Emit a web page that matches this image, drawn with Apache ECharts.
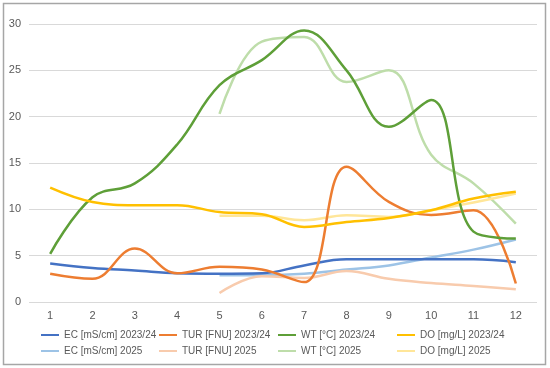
<!DOCTYPE html>
<html><head><meta charset="utf-8">
<script src="https://cdn.jsdelivr.net/npm/echarts@6/dist/echarts.min.js"></script>
<style>html,body{margin:0;padding:0;background:#fff}#c{width:550px;height:368px}</style>
</head><body><div id="c"></div>
<script>
const categories = ['1','2','3','4','5','6','7','8','9','10','11','12'];
const yTicks = [0,5,10,15,20,25,30];
const seriesNames = ['EC [mS/cm] 2023/24','TUR [FNU] 2023/24','WT [°C] 2023/24','DO [mg/L] 2023/24',
  'EC [mS/cm] 2025','TUR [FNU] 2025','WT [°C] 2025','DO [mg/L] 2025'];
const ec2324 = [4.15,3.67,3.4,3.1,3.05,3.1,3.95,4.6,4.6,4.6,4.6,4.3];
const tur2324 = [3.05,2.5,5.77,3.1,3.8,3.5,2.15,14.6,10.8,9.4,9.9,2.0];
const wt2324 = [5.2,11.3,12.8,17.0,23.4,26.1,29.3,25.0,18.9,21.8,7.6,6.85];
const do2324 = [12.35,10.8,10.45,10.45,9.7,9.47,8.1,8.64,9.07,9.9,11.17,11.9];
const ec25 = [null,null,null,null,2.9,2.9,3.05,3.5,3.95,4.8,5.65,6.75];
const tur25 = [null,null,null,null,0.97,2.78,2.6,3.35,2.5,2.05,1.73,1.37];
const wt25 = [null,null,null,null,20.3,28.1,28.6,23.75,25.0,15.9,12.8,8.45];
const do25 = [null,null,null,null,9.3,9.3,8.82,9.36,9.18,9.9,10.73,11.7];

const dataList = [ec2324,tur2324,wt2324,do2324,ec25,tur25,wt25,do25];
const colors = ['#4472C4','#ED7D31','#5E9F38','#FFC000','#9DC3E6','#F8CBAD','#BEDDAA','#FFE699'];

const chart = echarts.init(document.getElementById('c'));
const font = 'Liberation Sans, Arial, sans-serif';
const legendLefts = [40,158,277,396];
const legends = legendLefts.map((l,i)=>({
  left:l, top:330, orient:'vertical', itemGap:6, itemWidth:18, itemHeight:12, padding:0,
  itemStyle:{opacity:0},
  textStyle:{color:'#595959',fontSize:10,fontFamily:font},
  data:[seriesNames[i],seriesNames[i+4]]
}));
chart.setOption({
  animation:false,
  graphic:[{type:'rect',shape:{x:3.5,y:3.5,width:542,height:361},style:{fill:'none',stroke:'#a6a6a6',lineWidth:1.5},z:-1}],
  legend:legends,
  grid:{left:29,right:13,top:24,bottom:66},
  xAxis:{type:'category',data:categories,boundaryGap:true,
    axisLine:{show:false},axisTick:{show:false},
    axisLabel:{color:'#595959',fontSize:11,fontFamily:font,margin:8}},
  yAxis:{type:'value',min:yTicks[0],max:yTicks[yTicks.length-1],interval:5,
    axisLine:{show:false},axisTick:{show:false},
    splitLine:{lineStyle:{color:'#d9d9d9',width:1}},
    axisLabel:{color:'#595959',fontSize:11,fontFamily:font,margin:8}},
  series:dataList.map((d,i)=>({
    name:seriesNames[i],type:'line',data:d,smooth:0.4,symbol:'none',
    connectNulls:false,
    lineStyle:{color:colors[i],width:2.5},itemStyle:{color:colors[i]},
    z: i<4 ? 3 : 2
  }))
});
</script></body></html>
